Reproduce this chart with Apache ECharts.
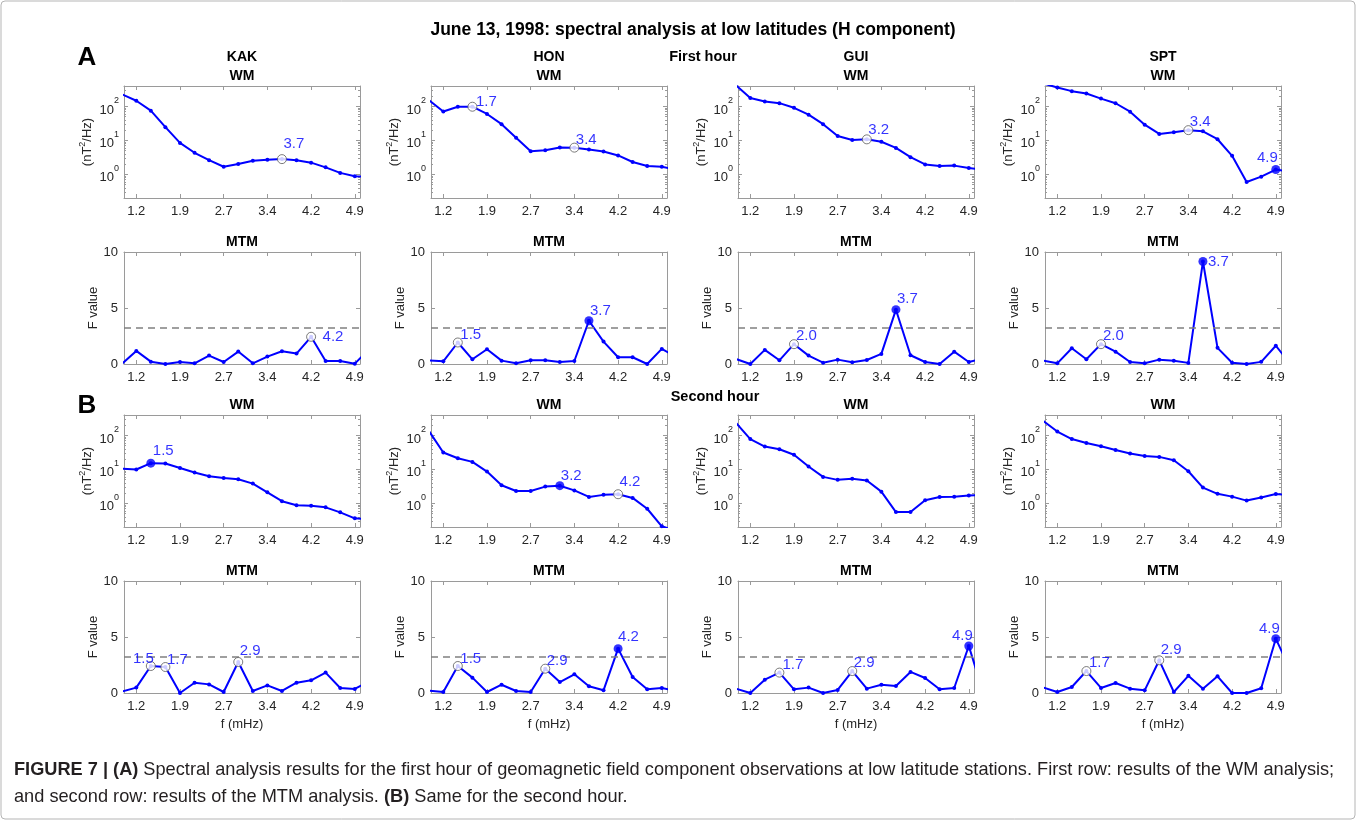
<!DOCTYPE html>
<html><head><meta charset="utf-8">
<script src="https://cdn.jsdelivr.net/npm/echarts@6/dist/echarts.min.js"></script>
<style>html,body{margin:0;padding:0;background:#fff}#c{width:1356px;height:820px}</style>
</head><body><div id="c"></div>
<script>
// ---------------- data ----------------
const stations = ['KAK', 'HON', 'GUI', 'SPT'];
const freqs = [0.951, 1.2, 1.448, 1.697, 1.946, 2.195, 2.443, 2.692, 2.941, 3.190, 3.438, 3.687, 3.936, 4.185, 4.433, 4.682, 4.931, 5.180];
const tickFreqs = [1.2, 1.946, 2.692, 3.438, 4.185, 4.931];
const tickLabels = ['1.2', '1.9', '2.7', '3.4', '4.2', '4.9'];
const logMinorTicks = [0.3, 0.4, 0.5, 0.6, 0.7, 0.8, 0.9, 2, 3, 4, 5, 6, 7, 8, 9, 20, 30, 40, 50, 60, 70, 80, 90, 200, 300];
const fThreshold = 3.26;

// first hour, WM (nT^2/Hz)
const wm1KAK = [230, 147, 75, 24.5, 8.4, 4.3, 2.6, 1.67, 2.0, 2.5, 2.7, 2.8, 2.6, 2.2, 1.6, 1.1, 0.87, 0.85];
const wm1HON = [155, 71, 98, 98, 60, 30, 12, 4.8, 5.1, 6.2, 6.1, 5.4, 4.7, 3.6, 2.3, 1.75, 1.67, 1.35];
const wm1GUI = [427, 178, 140, 125, 91, 57, 30, 13.4, 10.2, 10.7, 9.1, 6.0, 3.2, 1.95, 1.75, 1.8, 1.53, 1.35];
const wm1SPT = [480, 363, 282, 240, 170, 124, 70, 29, 15.5, 17.4, 20, 18.5, 10.8, 3.5, 0.59, 0.85, 1.38, 1.2];
// first hour, MTM (F value)
const mtm1KAK = [0.0, 1.17, 0.21, 0.0, 0.18, 0.06, 0.75, 0.18, 1.11, 0.06, 0.66, 1.14, 0.93, 2.43, 0.27, 0.27, 0.03, 1.35];
const mtm1HON = [0.32, 0.24, 1.92, 0.42, 1.32, 0.3, 0.06, 0.33, 0.33, 0.18, 0.27, 3.86, 2.0, 0.6, 0.6, 0.0, 1.35, 0.62];
const mtm1GUI = [0.45, 0.0, 1.26, 0.33, 1.77, 0.75, 0.12, 0.39, 0.15, 0.36, 0.9, 4.85, 0.78, 0.18, 0.0, 1.1, 0.18, 0.5];
const mtm1SPT = [0.31, 0.06, 1.4, 0.42, 1.77, 1.1, 0.18, 0.06, 0.39, 0.3, 0.1, 9.15, 1.44, 0.11, 0.0, 0.19, 1.63, 0.0];
// second hour, WM
const wm2KAK = [10.5, 9.9, 15.2, 14.9, 11, 8.1, 6.3, 5.6, 5.1, 3.8, 2.1, 1.15, 0.87, 0.85, 0.76, 0.54, 0.36, 0.34];
const wm2HON = [138, 31.5, 21.3, 16.6, 8.6, 3.4, 2.3, 2.3, 3.1, 3.3, 2.4, 1.54, 1.77, 1.85, 1.44, 0.69, 0.21, 0.15];
const wm2GUI = [240, 78, 47, 39, 27, 12.1, 6.0, 4.9, 5.3, 4.7, 2.2, 0.55, 0.55, 1.23, 1.54, 1.55, 1.69, 1.75];
const wm2SPT = [275, 130, 78, 60, 48, 37, 29.5, 24.6, 23.3, 18.6, 8.8, 2.9, 1.9, 1.57, 1.2, 1.48, 1.87, 1.75];
// second hour, MTM
const mtm2KAK = [0.12, 0.48, 2.41, 2.32, 0.0, 0.92, 0.77, 0.09, 2.77, 0.18, 0.68, 0.18, 0.92, 1.13, 1.82, 0.45, 0.36, 1.06];
const mtm2HON = [0.2, 0.09, 2.41, 1.37, 0.09, 0.74, 0.18, 0.09, 2.17, 0.98, 1.67, 0.6, 0.24, 3.96, 1.43, 0.33, 0.45, 0.2];
const mtm2GUI = [0.39, 0.0, 1.19, 1.82, 0.33, 0.48, 0.0, 0.27, 1.96, 0.39, 0.74, 0.63, 1.88, 1.34, 0.33, 0.45, 4.2, 0.0];
const mtm2SPT = [0.5, 0.09, 0.54, 1.96, 0.45, 0.89, 0.39, 0.24, 2.92, 0.09, 1.53, 0.38, 1.49, 0.0, 0.0, 0.42, 4.85, 2.06];

// marked peaks: [point index, 'o' open / 'f' filled, label]
const peaksWM1 = { KAK: [[11, 'o', '3.7']], HON: [[3, 'o', '1.7'], [10, 'o', '3.4']], GUI: [[9, 'o', '3.2']], SPT: [[10, 'o', '3.4'], [16, 'f', '4.9']] };
const peaksMTM1 = { KAK: [[13, 'o', '4.2']], HON: [[2, 'o', '1.5'], [11, 'f', '3.7']], GUI: [[4, 'o', '2.0'], [11, 'f', '3.7']], SPT: [[4, 'o', '2.0'], [11, 'f', '3.7']] };
const peaksWM2 = { KAK: [[2, 'f', '1.5']], HON: [[9, 'f', '3.2'], [13, 'o', '4.2']], GUI: [], SPT: [] };
const peaksMTM2 = { KAK: [[2, 'o', '1.5'], [3, 'o', '1.7'], [8, 'o', '2.9']], HON: [[2, 'o', '1.5'], [8, 'o', '2.9'], [13, 'f', '4.2']], GUI: [[3, 'o', '1.7'], [8, 'o', '2.9'], [16, 'f', '4.9']], SPT: [[3, 'o', '1.7'], [8, 'o', '2.9'], [16, 'f', '4.9']] };

// ---------------- layout / style ----------------
const FONT = '"Liberation Sans", Arial, Helvetica, sans-serif';
const BLUE = '#0000ff';
const AXC = '#9a9a9a';
const TXT = '#262626';
const colLeft = [124, 431, 738, 1045];
const plotW = 236;
const rowTop = [86, 252, 415, 581];
const plotH = 112;
const rowDefs = [
  { key: 'wm1', log: true, vals: { KAK: wm1KAK, HON: wm1HON, GUI: wm1GUI, SPT: wm1SPT }, peaks: peaksWM1, title: 'WM' },
  { key: 'mtm1', log: false, vals: { KAK: mtm1KAK, HON: mtm1HON, GUI: mtm1GUI, SPT: mtm1SPT }, peaks: peaksMTM1, title: 'MTM' },
  { key: 'wm2', log: true, vals: { KAK: wm2KAK, HON: wm2HON, GUI: wm2GUI, SPT: wm2SPT }, peaks: peaksWM2, title: 'WM' },
  { key: 'mtm2', log: false, vals: { KAK: mtm2KAK, HON: mtm2HON, GUI: mtm2GUI, SPT: mtm2SPT }, peaks: peaksMTM2, title: 'MTM' }
];
// label placement (text anchor offset from marker centre, px); 'R' = right-aligned text
const labelPlace = {
  'wm1-KAK-11': [1, -15], 'wm1-HON-3': [3, -5], 'wm1-HON-10': [1, -8], 'wm1-GUI-9': [1, -9], 'wm1-SPT-10': [1, -8], 'wm1-SPT-16': ['R', 2, -12],
  'mtm1-KAK-13': [11, 0], 'mtm1-HON-2': [2, -8], 'mtm1-HON-11': [1, -10], 'mtm1-GUI-4': [1.5, -8], 'mtm1-GUI-11': [1, -11], 'mtm1-SPT-4': [1.5, -8], 'mtm1-SPT-11': [5, 0],
  'wm2-KAK-2': [2, -12], 'wm2-HON-9': [1, -10], 'wm2-HON-13': [1, -12],
  'mtm2-KAK-2': ['R', 3.5, -7], 'mtm2-KAK-3': [1, -7], 'mtm2-KAK-8': [1, -11], 'mtm2-HON-2': [2, -7], 'mtm2-HON-8': [1, -8], 'mtm2-HON-13': [0, -12],
  'mtm2-GUI-3': [2.5, -8], 'mtm2-GUI-8': [1, -8], 'mtm2-GUI-16': ['R', 4, -10], 'mtm2-SPT-3': [2, -8], 'mtm2-SPT-8': [1, -10], 'mtm2-SPT-16': ['R', 4, -10]
};

const MSIZE = 9;
const grids = [], xAxes = [], yAxes = [], series = [], graphics = [];

function xLabelFmt(v) {
  let best = 0;
  for (let k = 1; k < tickFreqs.length; k++) if (Math.abs(tickFreqs[k] - v) < Math.abs(tickFreqs[best] - v)) best = k;
  return tickLabels[best];
}

rowDefs.forEach((row, r) => {
  stations.forEach((st, c) => {
    const p = grids.length;
    grids.push({ left: colLeft[c], top: rowTop[r], width: plotW, height: plotH, show: false });
    const xBase = {
      type: 'value', gridIndex: p, min: 0.99, max: 5.02,
      axisLine: { show: true, onZero: false, lineStyle: { color: AXC, width: 1 } },
      axisTick: { show: true, inside: true, length: 4, customValues: tickFreqs, lineStyle: { color: AXC } },
      splitLine: { show: false }
    };
    xAxes.push(Object.assign({}, xBase, {
      position: 'bottom',
      axisLabel: { show: true, customValues: tickFreqs, formatter: xLabelFmt, color: TXT, fontSize: 13, fontFamily: FONT, margin: 7 },
      name: r === 3 ? 'f (mHz)' : '', nameLocation: 'middle', nameGap: 25,
      nameTextStyle: { color: TXT, fontSize: 13, fontFamily: FONT }
    }));
    xAxes.push(Object.assign({}, xBase, { position: 'top', axisLabel: { show: false } }));

    let yBase;
    if (row.log) {
      yBase = {
        type: 'log', logBase: 10, gridIndex: p, min: 0.2, max: 400,
        axisLine: { show: true, onZero: false, lineStyle: { color: AXC } },
        axisTick: { show: true, inside: true, length: 4, lineStyle: { color: AXC } },
        splitLine: { show: false }
      };
      yAxes.push(Object.assign({}, yBase, {
        position: 'left',
        axisLabel: {
          show: true, showMinLabel: false, showMaxLabel: false, margin: 5,
          formatter: v => '{a|10}{b|' + Math.round(Math.log10(v)) + '}',
          rich: {
            a: { fontSize: 13, fontFamily: FONT, color: TXT, lineHeight: 20, verticalAlign: 'bottom' },
            b: { fontSize: 9, fontFamily: FONT, color: TXT, lineHeight: 20, verticalAlign: 'top' }
          }
        },
        name: '(nT{s|2}/Hz)', nameLocation: 'middle', nameGap: 28, nameRotate: 90,
        nameTextStyle: {
          color: TXT, fontSize: 13, fontFamily: FONT,
          rich: { s: { fontSize: 9, fontFamily: FONT, color: TXT, verticalAlign: 'top', lineHeight: 18 } }
        }
      }));
      yAxes.push(Object.assign({}, yBase, { position: 'right', axisLabel: { show: false } }));
      // minor log ticks (left and right)
      ['left', 'right'].forEach(pos => {
        yAxes.push({
          type: 'value', gridIndex: p, position: pos, min: Math.log10(0.2), max: Math.log10(400),
          axisLine: { show: false, onZero: false }, axisLabel: { show: false }, splitLine: { show: false },
          axisTick: { show: true, inside: true, length: 2, customValues: logMinorTicks.map(v => Math.log10(v)), lineStyle: { color: AXC } }
        });
      });
    } else {
      yBase = {
        type: 'value', gridIndex: p, min: 0, max: 10, interval: 5,
        axisLine: { show: true, onZero: false, lineStyle: { color: AXC } },
        axisTick: { show: true, inside: true, length: 4, lineStyle: { color: AXC } },
        splitLine: { show: false }
      };
      yAxes.push(Object.assign({}, yBase, {
        position: 'left',
        axisLabel: { show: true, color: TXT, fontSize: 13, fontFamily: FONT, margin: 6 },
        name: 'F value', nameLocation: 'middle', nameGap: 20, nameRotate: 90,
        nameTextStyle: { color: TXT, fontSize: 13, fontFamily: FONT }
      }));
      yAxes.push(Object.assign({}, yBase, { position: 'right', axisLabel: { show: false } }));
    }
    const yIdx = yAxes.length - (row.log ? 4 : 2);

    const vals = row.vals[st];
    const lineSeries = {
      type: 'line', xAxisIndex: 2 * p, yAxisIndex: yIdx, clip: true, silent: true, z: 3,
      data: freqs.map((f, i) => [f, vals[i]]),
      symbol: 'circle', symbolSize: 4, showSymbol: true,
      lineStyle: { color: BLUE, width: 2 }, itemStyle: { color: BLUE }
    };
    if (!row.log) {
      lineSeries.markLine = {
        silent: true, symbol: ['none', 'none'], label: { show: false }, animation: false,
        lineStyle: { color: '#808080', type: [7, 5], width: 1.5 },
        data: [{ yAxis: fThreshold }]
      };
    }
    series.push(lineSeries);

    const pk = row.peaks[st];
    if (pk.length) {
      series.push({
        type: 'scatter', xAxisIndex: 2 * p, yAxisIndex: yIdx, z: 6, silent: true, clip: false,
        symbol: 'circle', symbolSize: MSIZE,
        label: { show: true, formatter: q => q.name, color: BLUE, fontSize: 15, fontFamily: FONT },
        data: pk.map(([i, kind, txt]) => {
          const pl = labelPlace[row.key + '-' + st + '-' + i] || [1, -9];
          const right = pl[0] === 'R';
          const dx = right ? pl[1] : pl[0], dy = right ? pl[2] : pl[1];
          return {
            name: txt, value: [freqs[i], vals[i]],
            itemStyle: kind === 'o' ? { color: '#ffffff', borderColor: '#5a5a5a', borderWidth: 1 } : { color: BLUE },
            label: right
              ? { position: 'left', distance: 0, offset: [dx + MSIZE / 2, dy] }
              : { position: 'right', distance: 0, offset: [dx - MSIZE / 2, dy] }
          };
        })
      });
    }

    // panel titles
    const cx = colLeft[c] + plotW / 2;
    graphics.push({ type: 'text', x: cx, y: rowTop[r] - 10, style: { text: row.title, font: 'bold 14px ' + FONT, fill: '#000', align: 'center', verticalAlign: 'middle' } });
    if (r === 0) graphics.push({ type: 'text', x: cx, y: 57, style: { text: st, font: 'bold 14px ' + FONT, fill: '#000', align: 'center', verticalAlign: 'middle' } });
  });
});

graphics.push(
  { type: 'rect', shape: { x: 1, y: 1, width: 1354, height: 818, r: 4 }, style: { fill: 'none', stroke: '#b5b5b5', lineWidth: 1 } },
  { type: 'text', x: 693, y: 30, style: { text: 'June 13, 1998: spectral analysis at low latitudes (H component)', font: 'bold 17.5px ' + FONT, fill: '#000', align: 'center', verticalAlign: 'middle' } },
  { type: 'text', x: 87, y: 58, style: { text: 'A', font: 'bold 26px ' + FONT, fill: '#000', align: 'center', verticalAlign: 'middle' } },
  { type: 'text', x: 87, y: 406, style: { text: 'B', font: 'bold 26px ' + FONT, fill: '#000', align: 'center', verticalAlign: 'middle' } },
  { type: 'text', x: 703, y: 57, style: { text: 'First hour', font: 'bold 14.5px ' + FONT, fill: '#000', align: 'center', verticalAlign: 'middle' } },
  { type: 'text', x: 715, y: 397, style: { text: 'Second hour', font: 'bold 14.5px ' + FONT, fill: '#000', align: 'center', verticalAlign: 'middle' } },
  { type: 'text', x: 14, y: 770, style: { text: '{b|FIGURE 7 | (A)} Spectral analysis results for the first hour of geomagnetic field component observations at low latitude stations. First row: results of the WM analysis;', fontSize: 18.2, fontFamily: FONT, fill: '#231f20', verticalAlign: 'middle', rich: { b: { fontWeight: 'bold', fontSize: 18.2, fontFamily: FONT, fill: '#231f20' } } } },
  { type: 'text', x: 14, y: 797, style: { text: 'and second row: results of the MTM analysis. {b|(B)} Same for the second hour.', fontSize: 18.2, fontFamily: FONT, fill: '#231f20', verticalAlign: 'middle', rich: { b: { fontWeight: 'bold', fontSize: 18.2, fontFamily: FONT, fill: '#231f20' } } } }
);

const chart = echarts.init(document.getElementById('c'), null, { renderer: 'canvas', width: 1356, height: 820 });
chart.setOption({
  animation: false,
  backgroundColor: '#ffffff',
  grid: grids, xAxis: xAxes, yAxis: yAxes, series: series, graphic: graphics
});
</script>
</body></html>
